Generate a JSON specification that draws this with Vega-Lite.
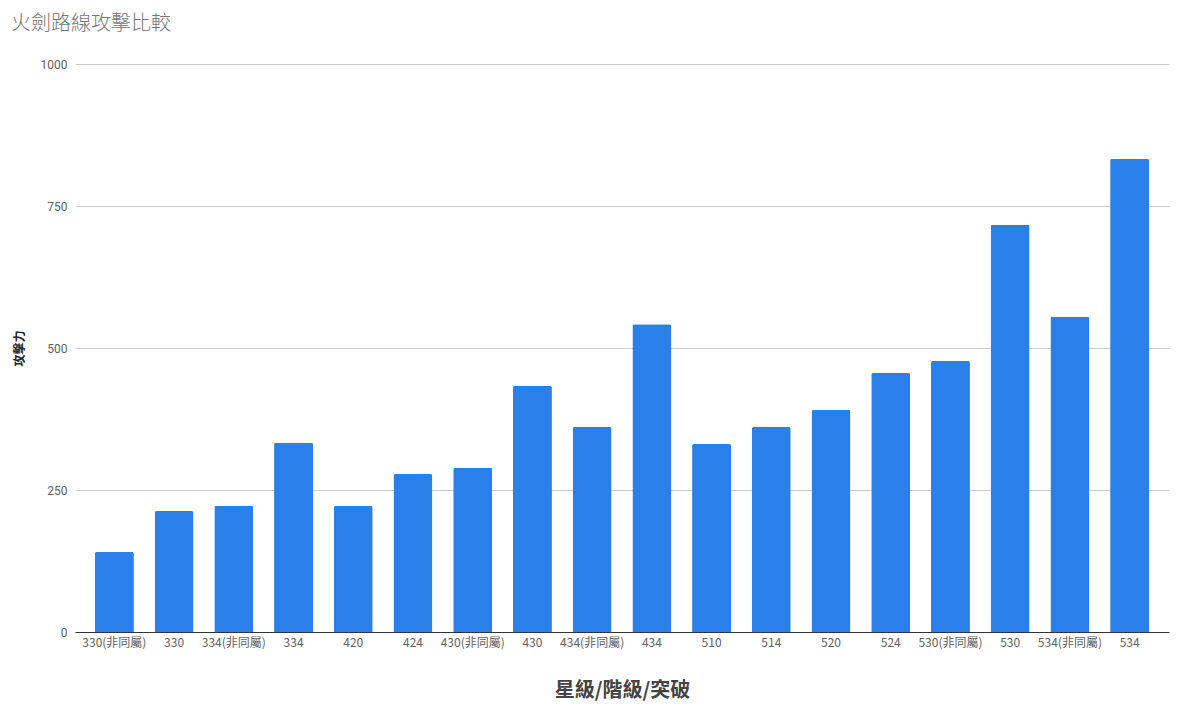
{
  "$schema": "https://vega.github.io/schema/vega-lite/v6.json",
  "width": 1094,
  "height": 568,
  "autosize": {"type": "none"},
  "padding": {"left": 75, "top": 64, "right": 17, "bottom": 75},
  "background": "white",
  "title": {
    "text": "火劍路線攻擊比較",
    "anchor": "start",
    "frame": "group",
    "dx": -64,
    "offset": 24,
    "font": "Noto Sans CJK TC",
    "fontSize": 20,
    "fontWeight": 300,
    "color": "#757575"
  },
  "data": {
    "values": [
      {"level": "330(非同屬)", "attack": 141},
      {"level": "330", "attack": 213},
      {"level": "334(非同屬)", "attack": 222},
      {"level": "334", "attack": 333},
      {"level": "420", "attack": 222},
      {"level": "424", "attack": 278},
      {"level": "430(非同屬)", "attack": 289},
      {"level": "430", "attack": 433},
      {"level": "434(非同屬)", "attack": 361},
      {"level": "434", "attack": 542},
      {"level": "510", "attack": 331},
      {"level": "514", "attack": 361},
      {"level": "520", "attack": 391},
      {"level": "524", "attack": 456},
      {"level": "530(非同屬)", "attack": 477},
      {"level": "530", "attack": 717},
      {"level": "534(非同屬)", "attack": 555},
      {"level": "534", "attack": 833}
    ]
  },
  "mark": {
    "type": "bar",
    "color": "#2b7fe9",
    "cornerRadiusTopLeft": 2,
    "cornerRadiusTopRight": 2
  },
  "encoding": {
    "x": {
      "field": "level",
      "type": "nominal",
      "sort": null,
      "scale": {"paddingInner": 0.347, "paddingOuter": 0.333},
      "axis": {
        "title": "星級/階級/突破",
        "titleFont": "Noto Sans CJK TC",
        "titleFontSize": 20,
        "titleFontWeight": "bold",
        "titleColor": "#444444",
        "titlePadding": 32,
        "labelAngle": 0,
        "labelFont": "Noto Sans CJK TC",
        "labelFontSize": 12,
        "labelColor": "#616161",
        "labelPadding": 5,
        "ticks": false,
        "domainColor": "#333333",
        "domainWidth": 1,
        "grid": false
      }
    },
    "y": {
      "field": "attack",
      "type": "quantitative",
      "scale": {"domain": [0, 1000], "nice": false},
      "axis": {
        "title": "攻擊力",
        "titleFont": "Noto Sans CJK TC",
        "titleFontSize": 12,
        "titleFontWeight": "bold",
        "titleColor": "#222222",
        "titlePadding": 14,
        "format": "d",
        "values": [0, 250, 500, 750, 1000],
        "labelFont": "Roboto",
        "labelFontSize": 12,
        "labelColor": "#616161",
        "labelPadding": 8,
        "ticks": false,
        "domain": false,
        "gridColor": "#cccccc",
        "gridWidth": 1
      }
    }
  },
  "config": {
    "view": {"stroke": null}
  }
}
